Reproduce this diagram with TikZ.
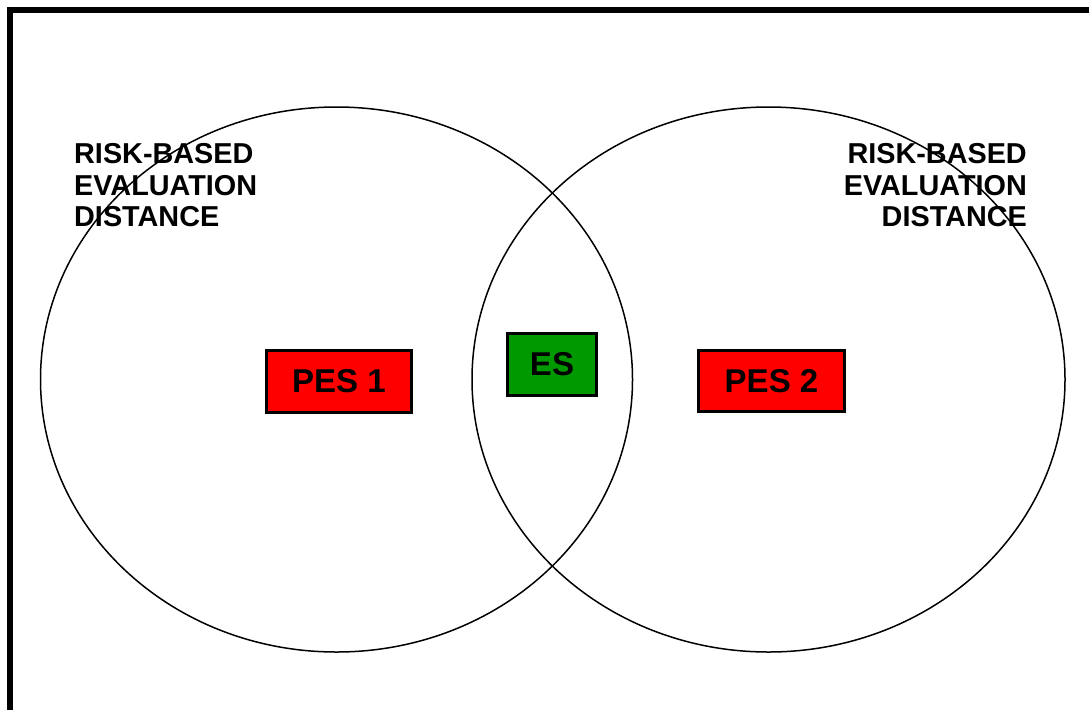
\documentclass[tikz,border=0pt]{standalone}
\usepackage{fontspec}
\setmainfont{Liberation Sans}
\usepackage{tikz}
\usetikzlibrary{positioning}

\definecolor{pesred}{RGB}{255,0,0}
\definecolor{esgreen}{RGB}{0,153,0}

\tikzset{
  sitebox/.style={draw=black, line width=2.5pt, inner sep=0pt,
                  font=\fontsize{33}{36}\selectfont\bfseries},
  distlabel/.style={inner sep=0pt, font=\fontsize{28.8}{31.5}\selectfont\bfseries},
  zone/.style={draw=black, line width=1.5pt}
}

\begin{document}
\begin{tikzpicture}[x=1pt, y=-1pt]
  \useasboundingbox (0,0) rectangle (1089,710);

  %--- Frame (only top and left edges show)
  \draw[line width=6pt] (10,710) -- (10,10) -- (1089,10);

  %--- Labels for the evaluation distances
  \node[distlabel, align=left, anchor=north west] (distL) at (74,143.5)
    {RISK-BASED\\EVALUATION\\DISTANCE};
  \node[distlabel, align=right, anchor=north east] (distR) at (1027,143.5)
    {RISK-BASED\\EVALUATION\\DISTANCE};

  %--- Risk-based evaluation zones
  \draw[zone] (336.5,379.5) ellipse [x radius=296, y radius=272.5];
  \draw[zone] (768.5,379.5) ellipse [x radius=296.5, y radius=272.5];

  %--- Sites
  \node[sitebox, fill=pesred, minimum width=145pt, minimum height=62pt] (pes1) at (339,381.5) {PES 1};
  \node[sitebox, fill=esgreen, minimum width=89pt, minimum height=62pt] (es) at (552,364.5) {ES};
  \node[sitebox, fill=pesred, minimum width=146pt, minimum height=61pt] (pes2) at (771.5,381) {PES 2};

\end{tikzpicture}
\end{document}
